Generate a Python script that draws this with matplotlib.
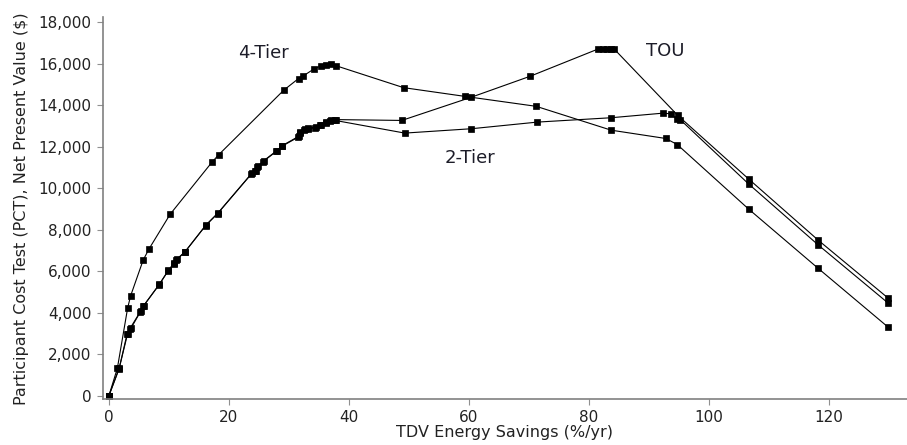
import matplotlib
matplotlib.use("Agg")
from matplotlib import pyplot as plt
from matplotlib.ticker import StrMethodFormatter

# 4-Tier rate
tier4_x = [0, 1.4, 3.1, 3.6, 5.7, 6.7, 10.2, 17.2, 18.3, 29.1, 31.6, 32.3, 34.1, 35.3,
           36.2, 37.0, 37.8, 49.1, 59.3, 71.2, 83.7, 92.8, 94.7, 106.6, 118.2, 129.8]
tier4_y = [0, 1320, 4200, 4800, 6530, 7080, 8740, 11260, 11610, 14710, 15280, 15390, 15730, 15890,
           15950, 15960, 15900, 14840, 14420, 13940, 12790, 12390, 12100, 8990, 6130, 3310]

# TOU rate
tou_x = [0, 1.7, 3.1, 3.7, 5.3, 5.8, 8.4, 9.9, 10.9, 11.3, 12.7, 16.2, 18.2, 23.8, 24.5, 24.8,
         25.8, 28.0, 28.9, 31.6, 31.9, 32.6, 33.2, 34.5, 35.3, 36.2, 37.0, 37.8, 48.8, 60.3,
         70.2, 81.5, 82.3, 83.0, 83.6, 84.2, 94.8, 106.6, 118.2, 129.8]
tou_y = [0, 1320, 2970, 3260, 4070, 4340, 5360, 6030, 6400, 6570, 6940, 8230, 8810, 10710, 10840, 11050,
         11320, 11810, 12050, 12490, 12690, 12860, 12900, 12940, 13060, 13180, 13260, 13300, 13260, 14370,
         15390, 16700, 16700, 16700, 16700, 16700, 13500, 10440, 7490, 4710]

# 2-Tier rate
tier2_x = [0, 1.7, 3.0, 3.5, 5.2, 5.7, 8.3, 9.8, 10.8, 11.2, 12.6, 16.1, 18.1, 23.7, 24.4, 24.7,
           25.7, 27.9, 28.8, 31.5, 31.8, 32.5, 33.1, 34.4, 35.2, 36.1, 36.9, 37.7, 49.3, 60.4,
           71.4, 83.7, 92.3, 93.6, 94.6, 95.2, 106.6, 118.2, 129.8]
tier2_y = [0, 1300, 2950, 3230, 4030, 4300, 5320, 5990, 6360, 6530, 6900, 8190, 8770, 10670, 10800, 11010,
           11280, 11770, 12010, 12450, 12650, 12820, 12860, 12900, 13020, 13140, 13220, 13260, 12650, 12860,
           13180, 13390, 13610, 13580, 13340, 13300, 10200, 7260, 4470]

labels = ["4-Tier", "TOU", "2-Tier"]
label_pos = [(25.8, 16500), (92.7, 16600), (60.2, 11470)]

fig = plt.figure(figsize=(9.07, 4.45), dpi=100)
ax = fig.add_axes([0.1132, 0.1027, 0.8868, 0.8584])

for xs, ys in [(tier4_x, tier4_y), (tou_x, tou_y), (tier2_x, tier2_y)]:
    ax.plot(xs, ys, color='black', linewidth=0.8, marker='s', markersize=5,
            markeredgewidth=0.5)

for label, (x, y) in zip(labels, label_pos):
    ax.text(x, y, label, ha='center', va='center', fontsize=13, color='#1c1c28')

ax.set_xlim(-1.05, 133)
ax.set_ylim(-180, 18230)
ax.set_xticks([0, 20, 40, 60, 80, 100, 120])
ax.set_yticks(range(0, 18001, 2000))
ax.yaxis.set_major_formatter(StrMethodFormatter('{x:,.0f}'))

for side in ['top', 'right']:
    ax.spines[side].set_visible(False)
for side in ['left', 'bottom']:
    ax.spines[side].set_color('#808080')
    ax.spines[side].set_linewidth(1.2)
ax.tick_params(direction='out', length=4, width=0.8, color='#909090',
               labelsize=11, labelcolor='#222222', pad=4)

ax.set_xlabel('TDV Energy Savings (%/yr)', fontsize=11.5, color='#222222', labelpad=0)
ax.set_ylabel('Participant Cost Test (PCT), Net Present Value ($)', fontsize=11.5,
              color='#222222', labelpad=7)

fig.savefig('out.png', dpi=100)
